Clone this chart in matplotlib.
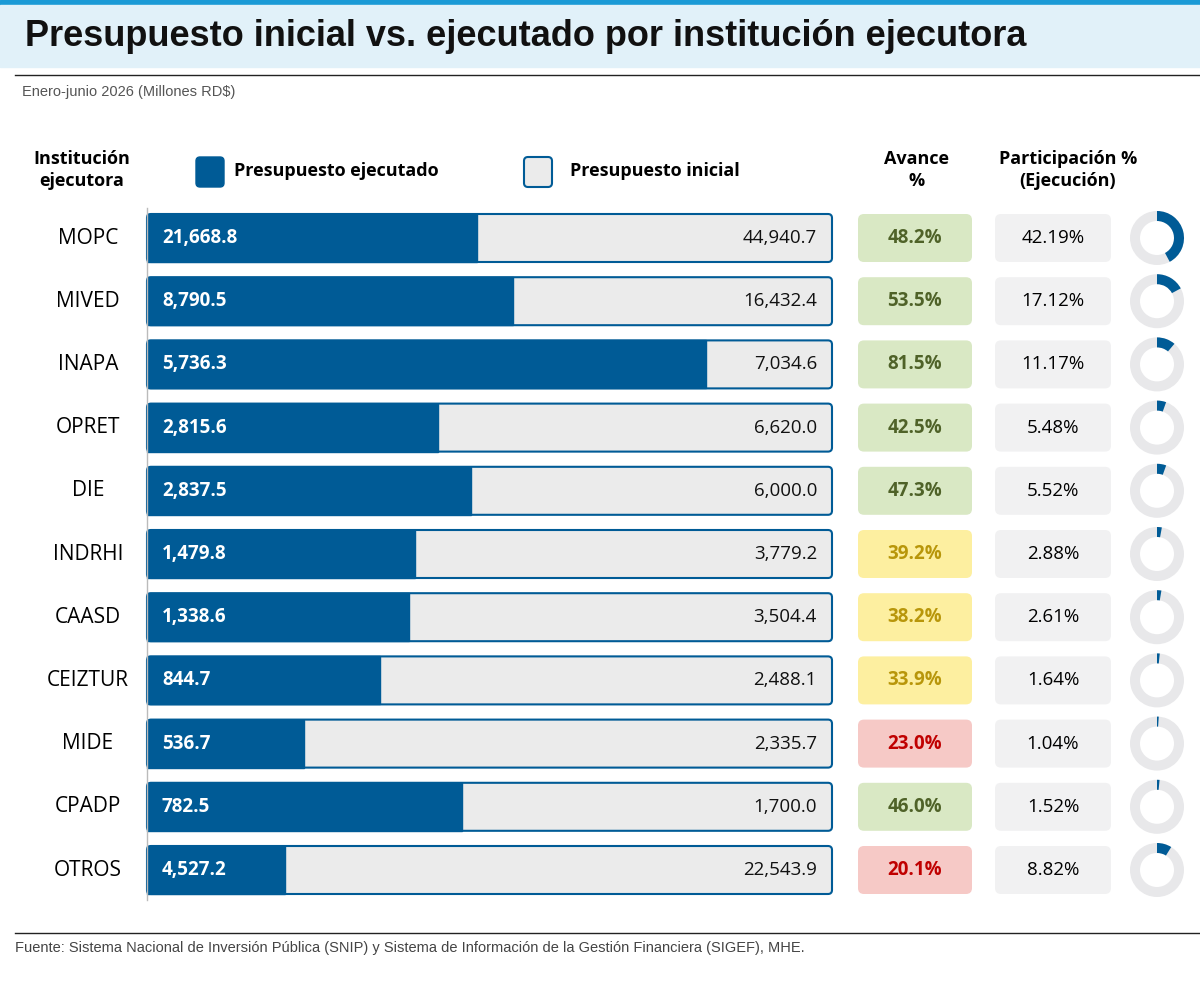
import matplotlib
matplotlib.use("Agg")
import matplotlib.pyplot as plt
from matplotlib.patches import FancyBboxPatch, Rectangle, Wedge

plt.rcParams['font.family'] = ['Open Sans', 'DejaVu Sans']

instituciones = ["MOPC", "MIVED", "INAPA", "OPRET", "DIE", "INDRHI", "CAASD",
                 "CEIZTUR", "MIDE", "CPADP", "OTROS"]
ejecutado = [21668.8, 8790.5, 5736.3, 2815.6, 2837.5, 1479.8, 1338.6, 844.7, 536.7, 782.5, 4527.2]
inicial = [44940.7, 16432.4, 7034.6, 6620.0, 6000.0, 3779.2, 3504.4, 2488.1, 2335.7, 1700.0, 22543.9]
avance = [48.2, 53.5, 81.5, 42.5, 47.3, 39.2, 38.2, 33.9, 23.0, 46.0, 20.1]
participacion = [42.19, 17.12, 11.17, 5.48, 5.52, 2.88, 2.61, 1.64, 1.04, 1.52, 8.82]

azul = "#005b96"
gris = "#ebebeb"
estrecha = ["Liberation Sans", "DejaVu Sans"]

fig = plt.figure(figsize=(12, 9.82), dpi=100)
ax = fig.add_axes([0, 0, 1, 1])
ax.set_xlim(0, 1200)
ax.set_ylim(982, 0)
ax.axis("off")

# Encabezado
ax.add_patch(Rectangle((0, 0), 1200, 5, color="#1a9ad6"))
ax.add_patch(Rectangle((0, 5), 1200, 62, color="#e1f1f9"))
ax.text(25, 36, "Presupuesto inicial vs. ejecutado por institución ejecutora",
        fontsize=26, fontweight="bold", va="center", family=estrecha, color="#111111")
ax.plot([15, 1200], [75, 75], color="#222222", lw=1)
ax.text(22, 92, "Enero-junio 2026 (Millones RD$)", fontsize=10.5, color="#555555",
        va="center", family=estrecha)

# Cabeceras
ax.text(82, 170, "Institución\nejecutora", fontsize=13, fontweight="bold", ha="center",
        va="center", linespacing=1.3)
ax.add_patch(FancyBboxPatch((196, 157), 28, 30, boxstyle="round,pad=0,rounding_size=4",
                            fc=azul, ec=azul))
ax.text(234, 171, "Presupuesto ejecutado", fontsize=13, fontweight="bold", va="center")
ax.add_patch(FancyBboxPatch((524, 157), 28, 30, boxstyle="round,pad=0,rounding_size=4",
                            fc=gris, ec=azul, lw=1.5))
ax.text(570, 171, "Presupuesto inicial", fontsize=13, fontweight="bold", va="center")
ax.text(917, 170, "Avance\n%", fontsize=13, fontweight="bold", ha="center", va="center",
        linespacing=1.3)
ax.text(1068, 170, "Participación %\n(Ejecución)", fontsize=13, fontweight="bold",
        ha="center", va="center", linespacing=1.3)

x0, x1 = 147, 832
y_first, paso, alto = 238, 63.2, 48
ax.plot([x0, x0], [208, 900], color="#bbbbbb", lw=1)

for i, nombre in enumerate(instituciones):
    yc = y_first + i * paso
    top = yc - alto / 2
    ax.text(88, yc, nombre, fontsize=15, ha="center", va="center")
    ax.add_patch(FancyBboxPatch((x0, top), x1 - x0, alto,
                                boxstyle="round,pad=0,rounding_size=4",
                                fc=gris, ec=azul, lw=1.5))
    w = (x1 - x0) * ejecutado[i] / inicial[i]
    ax.add_patch(Rectangle((x0, top), w, alto, fc=azul, ec=azul))
    ax.text(x0 + 15, yc, f"{ejecutado[i]:,.1f}", fontsize=13.5, fontweight="bold",
            color="white", va="center")
    ax.text(x1 - 15, yc, f"{inicial[i]:,.1f}", fontsize=13.5, color="#111111",
            va="center", ha="right")

    a = avance[i]
    if a >= 40:
        fc, tc = "#d9e8c4", "#4f6228"
    elif a >= 30:
        fc, tc = "#fdefa0", "#b8960a"
    else:
        fc, tc = "#f6c9c6", "#c00000"
    ax.add_patch(FancyBboxPatch((858, top), 114, alto,
                                boxstyle="round,pad=0,rounding_size=6", fc=fc, ec="none"))
    ax.text(915, yc, f"{a:.1f}%", fontsize=13.5, fontweight="bold", color=tc,
            ha="center", va="center")

    ax.add_patch(FancyBboxPatch((995, top), 116, alto,
                                boxstyle="round,pad=0,rounding_size=6", fc="#f1f1f2",
                                ec="none"))
    ax.text(1053, yc, f"{participacion[i]:.2f}%", fontsize=13.5, ha="center", va="center")

    cx, r = 1157, 27
    ax.add_patch(Wedge((cx, yc), r, 0, 360, width=10, fc="#e8e8ea", ec="none"))
    p = participacion[i] / 100
    ax.add_patch(Wedge((cx, yc), r, -90, -90 + 360 * p, width=10, fc=azul, ec="none"))

ax.plot([15, 1200], [933, 933], color="#222222", lw=1)
ax.text(15, 948, "Fuente: Sistema Nacional de Inversión Pública (SNIP) y Sistema de "
        "Información de la Gestión Financiera (SIGEF), MHE.", fontsize=10.5,
        color="#444444", va="center", family=estrecha)

fig.savefig("out.png", dpi=100)
